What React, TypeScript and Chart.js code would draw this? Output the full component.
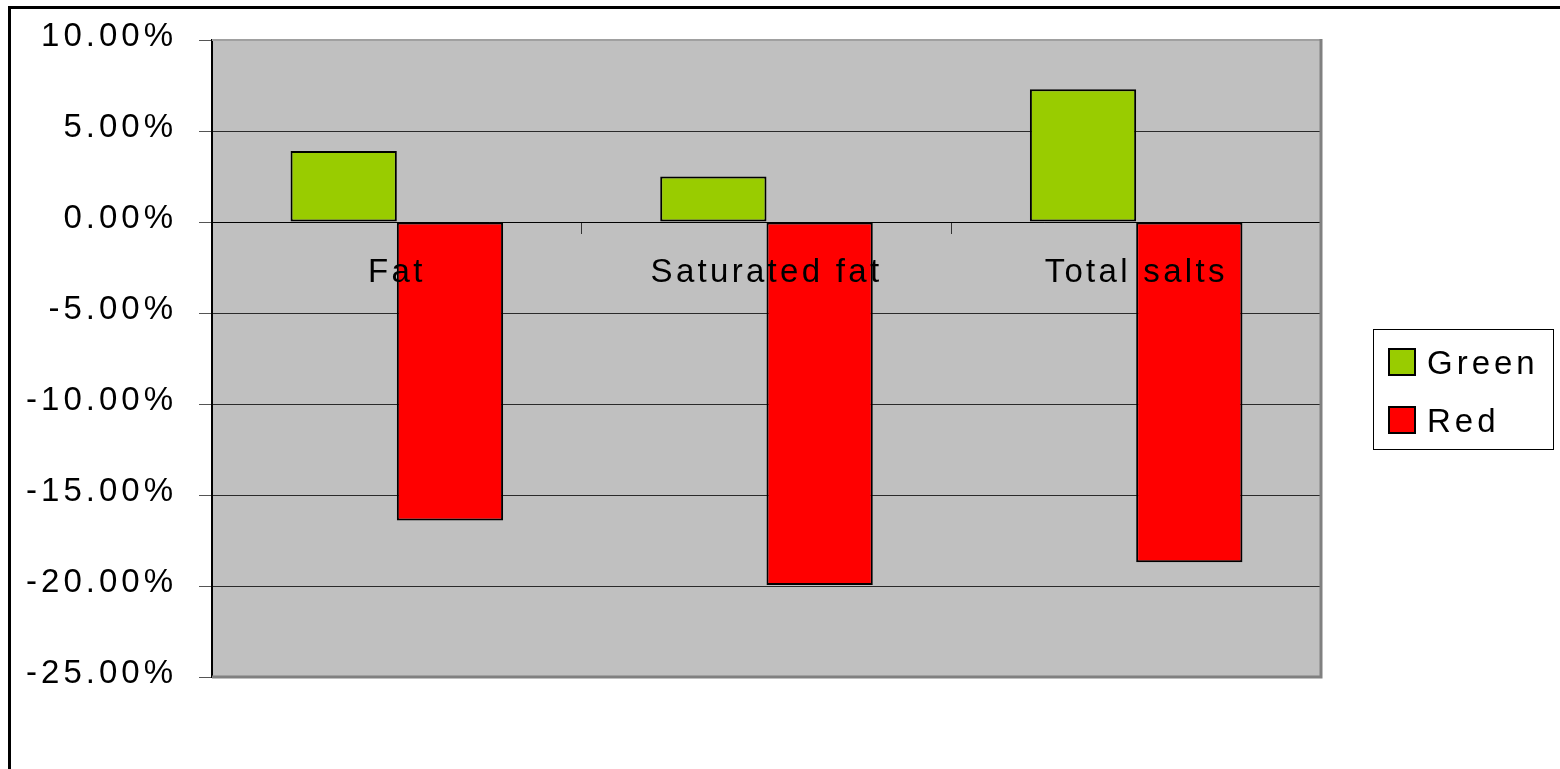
import React, { useEffect, useRef } from "react";
import { Chart, registerables } from "chart.js";

Chart.register(...registerables);

const categories = ["Fat", "Saturated fat", "Total salts"];
const greenValues = [3.9, 2.5, 7.3];
const redValues = [-16.4, -19.95, -18.7];
const seriesNames = ["Green", "Red"];
const seriesColors = ["#99CC00", "#FF0000"];
const yMin = -25;
const yMax = 10;
const yStep = 5;

const FONT_FAMILY = '"Liberation Sans", Arial, Helvetica, sans-serif';
const FONT_SIZE = 33;
const SPACING = "4px";
const CAT_SPACING = "3.3px";

const spacingPlugin = {
  id: "spacing",
  beforeLayout(chart: any) {
    chart.ctx.letterSpacing = SPACING;
  },
  beforeDraw(chart: any) {
    chart.ctx.letterSpacing = SPACING;
  },
  afterDatasetsDraw(chart: any) {
    chart.ctx.letterSpacing = CAT_SPACING;
  },
  afterDraw(chart: any) {
    chart.ctx.letterSpacing = SPACING;
  },
};

const plotAreaPlugin = {
  id: "plotArea",
  beforeDraw(chart: any) {
    const { ctx, chartArea } = chart;
    ctx.save();
    ctx.fillStyle = "#C0C0C0";
    ctx.fillRect(chartArea.left, chartArea.top, chartArea.right - chartArea.left, chartArea.bottom - chartArea.top);
    ctx.restore();
  },
  afterDatasetsDraw(chart: any) {
    const { ctx, chartArea } = chart;
    ctx.save();
    ctx.strokeStyle = "#A0A0A0";
    ctx.lineWidth = 2;
    ctx.beginPath();
    ctx.moveTo(chartArea.left, chartArea.top);
    ctx.lineTo(chartArea.right, chartArea.top);
    ctx.stroke();
    ctx.strokeStyle = "#808080";
    ctx.lineWidth = 3;
    ctx.beginPath();
    ctx.moveTo(chartArea.right, chartArea.top - 1);
    ctx.lineTo(chartArea.right, chartArea.bottom);
    ctx.lineTo(chartArea.left, chartArea.bottom);
    ctx.stroke();
    ctx.restore();
  },
};

const boxLegendPlugin = {
  id: "boxLegend",
  afterDraw(chart: any) {
    const { ctx } = chart;
    const bx = 1362;
    const by = 320;
    const bw = 180;
    const bh = 120;
    ctx.save();
    ctx.letterSpacing = SPACING;
    ctx.fillStyle = "#FFFFFF";
    ctx.fillRect(bx, by, bw, bh);
    ctx.strokeStyle = "#000000";
    ctx.lineWidth = 1;
    ctx.strokeRect(bx + 0.5, by + 0.5, bw, bh);
    ctx.font = `${FONT_SIZE}px ${FONT_FAMILY}`;
    ctx.textBaseline = "alphabetic";
    ctx.textAlign = "left";
    chart.data.datasets.forEach((ds: any, i: number) => {
      const sy = by + 20 + i * 58;
      ctx.fillStyle = ds.backgroundColor;
      ctx.fillRect(bx + 16, sy, 26, 26);
      ctx.strokeStyle = "#000";
      ctx.lineWidth = 2;
      ctx.strokeRect(bx + 16, sy, 26, 26);
      ctx.fillStyle = "#000";
      ctx.fillText(ds.label, bx + 54, sy + 25);
    });
    ctx.restore();
  },
};

export default function App() {
  const canvasRef = useRef<HTMLCanvasElement | null>(null);

  useEffect(() => {
    if (!canvasRef.current) return;
    const chart = new Chart(canvasRef.current, {
      type: "bar",
      data: {
        labels: categories,
        datasets: [
          {
            label: seriesNames[0],
            data: greenValues,
            backgroundColor: seriesColors[0],
            borderColor: "#000000",
            borderWidth: 2,
            borderSkipped: false,
            categoryPercentage: 0.575,
            barPercentage: 1.0,
          },
          {
            label: seriesNames[1],
            data: redValues,
            backgroundColor: seriesColors[1],
            borderColor: "#000000",
            borderWidth: 2,
            borderSkipped: false,
            categoryPercentage: 0.575,
            barPercentage: 1.0,
          },
        ],
      },
      options: {
        animation: false,
        responsive: true,
        maintainAspectRatio: false,
        layout: { padding: { top: 31, bottom: 92, right: 239, left: 0 } },
        plugins: {
          legend: { display: false },
          tooltip: { enabled: false },
        },
        scales: {
          x: {
            position: { y: 0 } as any,
            grid: {
              drawOnChartArea: false,
              drawTicks: true,
              tickLength: 11,
              color: "#333333",
              offset: true,
            },
            border: { display: true, color: "#000000", width: 1 },
            ticks: {
              z: 1,
              color: "#000000",
              font: { family: FONT_FAMILY, size: FONT_SIZE },
              padding: 20,
              maxRotation: 0,
              autoSkip: false,
            },
          },
          y: {
            position: "left",
            min: yMin,
            max: yMax,
            afterFit(scale: any) {
              scale.width = 201;
              scale.paddingTop = 0;
              scale.paddingBottom = 0;
            },
            ticks: {
              stepSize: yStep,
              color: "#000000",
              font: { family: FONT_FAMILY, size: FONT_SIZE },
              padding: 22,
              labelOffset: -3,
              callback: (v: any) => Number(v).toFixed(2) + "%",
            },
            grid: {
              color: "#2A2A2A",
              lineWidth: 1,
              tickLength: 13,
              tickColor: "#555555",
            },
            border: { display: true, color: "#000000", width: 2 },
          },
        },
      },
      plugins: [spacingPlugin, plotAreaPlugin, boxLegendPlugin],
    });
    return () => chart.destroy();
  }, []);

  return (
    <div
      style={{
        position: "fixed",
        left: 8,
        top: 6,
        width: 1552,
        height: 763,
        boxSizing: "border-box",
        borderTop: "3px solid #000",
        borderLeft: "3px solid #000",
        background: "#fff",
      }}
    >
      <div style={{ position: "relative", width: 1549, height: 760 }}>
        <canvas ref={canvasRef} />
      </div>
    </div>
  );
}
